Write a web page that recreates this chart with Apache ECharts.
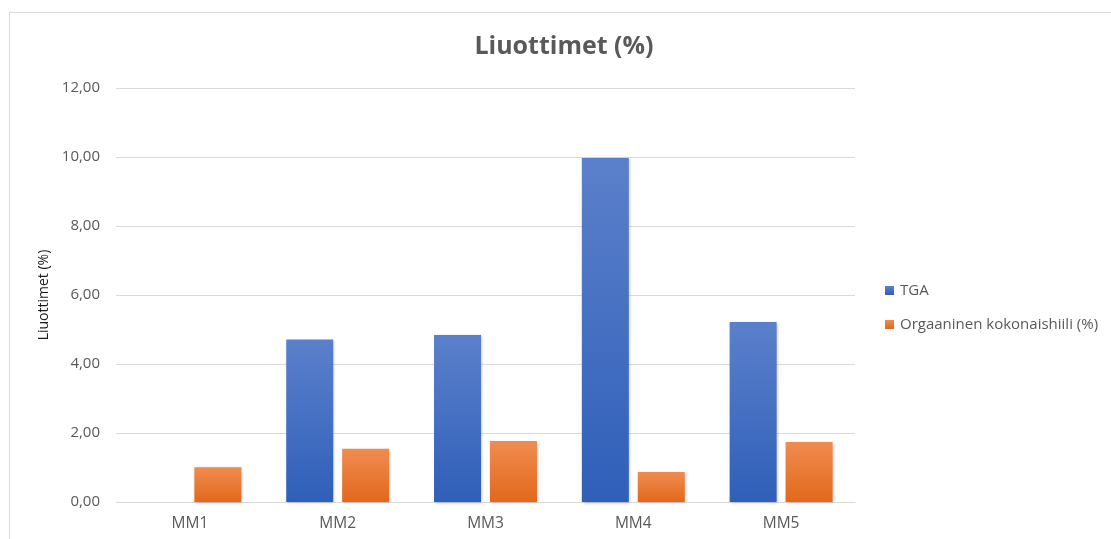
<!DOCTYPE html>
<html>
<head>
<meta charset="utf-8">
<script src="https://cdn.jsdelivr.net/npm/echarts@6/dist/echarts.min.js"></script>
<style>
  html, body { margin: 0; padding: 0; background: #fff; }
  #frame { position: absolute; left: 9px; top: 12px; width: 1110px; height: 540px; border: 1px solid #d9d9d9; box-sizing: border-box; }
  #chart { position: absolute; left: 0; top: 0; width: 1111px; height: 539px; }
</style>
</head>
<body>
<div id="frame"></div>
<div id="chart"></div>
<script>
const categories = ['MM1', 'MM2', 'MM3', 'MM4', 'MM5'];
const tgaValues = [0, 4.71, 4.84, 9.97, 5.22];
const orgCarbonValues = [1.01, 1.54, 1.77, 0.87, 1.74];
const seriesNames = ['TGA', 'Orgaaninen kokonaishiili (%)'];
const chartTitle = 'Liuottimet (%)';
const yAxisTitle = 'Liuottimet (%)';

const FONT = '"Open Sans", "Liberation Sans", Arial, sans-serif';
const TEXT = '#595959';

function vGrad(top, bottom) {
  return new echarts.graphic.LinearGradient(0, 0, 0, 1, [
    { offset: 0, color: top },
    { offset: 1, color: bottom }
  ]);
}

const chart = echarts.init(document.getElementById('chart'), null, { renderer: 'canvas' });
chart.setOption({
  backgroundColor: 'transparent',
  animation: false,
  title: {
    text: chartTitle,
    left: 559, top: 29, textAlign: 'center',
    textStyle: { fontFamily: FONT, fontSize: 25, fontWeight: 'bold', color: TEXT }
  },
  legend: {
    orient: 'vertical',
    left: 880, top: 278,
    itemWidth: 9, itemHeight: 9, itemGap: 19,
    icon: 'rect',
    textStyle: { fontFamily: FONT, fontSize: 15, color: TEXT, padding: [0, 0, 0, 1] },
    data: seriesNames
  },
  grid: { left: 116, right: 256, top: 88, bottom: 37 },
  xAxis: {
    type: 'category',
    data: categories,
    axisLine: { lineStyle: { color: '#d9d9d9', width: 1 } },
    axisTick: { show: false },
    axisLabel: { fontFamily: FONT, fontSize: 15.5, color: TEXT, margin: 14 }
  },
  yAxis: {
    type: 'value',
    min: 0, max: 12, interval: 2,
    name: yAxisTitle,
    nameLocation: 'middle',
    nameGap: 65,
    nameTextStyle: { fontFamily: FONT, fontSize: 14, color: '#1a1a1a' },
    axisLine: { show: false },
    axisTick: { show: false },
    axisLabel: {
      fontFamily: FONT, fontSize: 15, color: TEXT, margin: 16,
      formatter: v => v.toFixed(2).replace('.', ',')
    },
    splitLine: { lineStyle: { color: '#d9d9d9', width: 1 } }
  },
  series: [
    {
      name: seriesNames[0],
      type: 'bar',
      data: tgaValues,
      barWidth: 47,
      barGap: '19%',
      itemStyle: {
        color: vGrad('#5b80cb', '#2f5fb9'),
        shadowColor: 'rgba(0,0,0,0.25)', shadowBlur: 3, shadowOffsetX: 1, shadowOffsetY: 1
      }
    },
    {
      name: seriesNames[1],
      type: 'bar',
      data: orgCarbonValues,
      barWidth: 47,
      itemStyle: {
        color: vGrad('#f08c50', '#e2681c'),
        shadowColor: 'rgba(0,0,0,0.25)', shadowBlur: 3, shadowOffsetX: 1, shadowOffsetY: 1
      }
    }
  ]
});
</script>
</body>
</html>
